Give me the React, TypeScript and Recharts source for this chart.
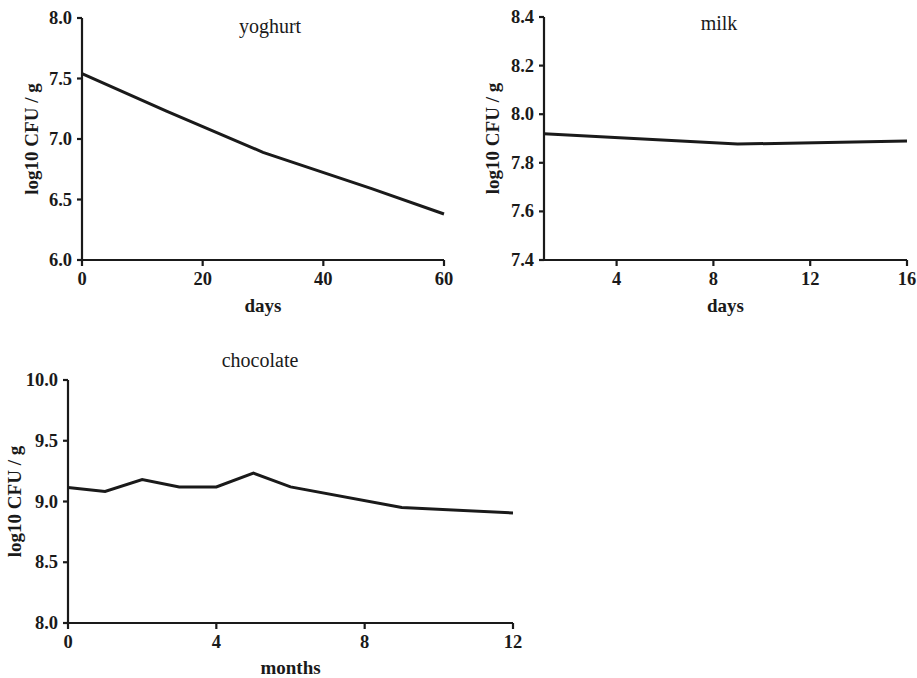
import React from "react";
import { LineChart, Line, XAxis, YAxis, Label } from "recharts";

const FONT = "Liberation Serif, Times New Roman, serif";
const INK = "#1a1a1a";

// yoghurt
const yoghurtDays = [0, 14, 30, 48, 60];
const yoghurtValues = [7.54, 7.23, 6.89, 6.59, 6.38];
const yoghurtXTicks = [0, 20, 40, 60];
const yoghurtYTicks = [6.0, 6.5, 7.0, 7.5, 8.0];

// milk
const milkDays = [1, 9, 16];
const milkValues = [7.92, 7.877, 7.89];
const milkXTicks = [4, 8, 12, 16];
const milkYTicks = [7.4, 7.6, 7.8, 8.0, 8.2, 8.4];

// chocolate
const chocolateMonths = [0, 1, 2, 3, 4, 5, 6, 9, 12];
const chocolateValues = [9.115, 9.082, 9.18, 9.12, 9.12, 9.234, 9.12, 8.95, 8.906];
const chocolateXTicks = [0, 4, 8, 12];
const chocolateYTicks = [8.0, 8.5, 9.0, 9.5, 10.0];

const titles = ["yoghurt", "milk", "chocolate"];
const yLabel = "log10 CFU / g";
const xLabels = ["days", "days", "months"];

const toRows = (xs: number[], ys: number[]) => xs.map((x, i) => ({ x, y: ys[i] }));

const XTick = (props: any) => {
  const { x, y, payload } = props;
  return (
    <text
      x={x}
      y={y}
      dy={14}
      textAnchor="middle"
      fontFamily={FONT}
      style={{ fontFamily: FONT }}
      fontWeight="bold"
      fontSize={18.5}
      fill={INK}
    >
      {String(payload.value)}
    </text>
  );
};

const YTick = (props: any) => {
  const { x, y, payload } = props;
  return (
    <text
      x={x}
      y={y}
      dy={6}
      textAnchor="end"
      fontFamily={FONT}
      style={{ fontFamily: FONT }}
      fontWeight="bold"
      fontSize={18.5}
      fill={INK}
    >
      {Number(payload.value).toFixed(1)}
    </text>
  );
};

type PanelProps = {
  left: number;
  top: number;
  width: number;
  height: number;
  margin: { top: number; right: number; bottom: number; left: number };
  yAxisWidth: number;
  xAxisHeight: number;
  rows: { x: number; y: number }[];
  xDomain: [number, number];
  xTicks: number[];
  yDomain: [number, number];
  yTicks: number[];
  xLabel: string;
  yLabelX: number;
  xLabelDy: number;
};

function Panel(p: PanelProps) {
  return (
    <div style={{ position: "absolute", left: p.left, top: p.top, width: p.width, height: p.height }}>
      <LineChart width={p.width} height={p.height} data={p.rows} margin={p.margin}>
        <XAxis
          dataKey="x"
          type="number"
          domain={p.xDomain}
          ticks={p.xTicks}
          interval={0}
          height={p.xAxisHeight}
          axisLine={{ stroke: INK, strokeWidth: 2.2 }}
          tickLine={{ stroke: INK, strokeWidth: 2.2 }}
          tickSize={6}
          tickMargin={5}
          tick={<XTick />}
        >
          <Label
            content={(props: any) => {
              const vb = props.viewBox || {};
              return (
                <text
                  x={vb.x + vb.width / 2}
                  y={vb.y + p.xLabelDy}
                  textAnchor="middle"
                  fontFamily={FONT}
                  style={{ fontFamily: FONT }}
                  fontWeight="bold"
                  fontSize={19}
                  fill={INK}
                >
                  {p.xLabel}
                </text>
              );
            }}
          />
        </XAxis>
        <YAxis
          type="number"
          domain={p.yDomain}
          ticks={p.yTicks}
          interval={0}
          width={p.yAxisWidth}
          axisLine={{ stroke: INK, strokeWidth: 2.2 }}
          tickLine={{ stroke: INK, strokeWidth: 2.2 }}
          tickSize={5}
          tickMargin={5}
          tick={<YTick />}
        >
          <Label
            content={(props: any) => {
              const vb = props.viewBox || {};
              const cx = p.yLabelX;
              const cy = vb.y + vb.height / 2;
              return (
                <text
                  x={cx}
                  y={cy}
                  textAnchor="middle"
                  transform={`rotate(-90, ${cx}, ${cy})`}
                  fontFamily={FONT}
                  style={{ fontFamily: FONT }}
                  fontWeight="bold"
                  fontSize={19}
                  fill={INK}
                >
                  {yLabel}
                </text>
              );
            }}
          />
        </YAxis>
        <Line
          type="linear"
          dataKey="y"
          stroke={INK}
          strokeWidth={3}
          dot={false}
          isAnimationActive={false}
        />
      </LineChart>
    </div>
  );
}

export default function App() {
  return (
    <div
      style={{
        position: "absolute",
        left: 0,
        top: 0,
        width: 917,
        height: 678,
        background: "#fff",
        overflow: "hidden",
        fontFamily: FONT,
      }}
    >
      <Panel
        left={0}
        top={0}
        width={460}
        height={320}
        margin={{ top: 18, right: 16, bottom: 0, left: 0 }}
        yAxisWidth={82}
        xAxisHeight={60}
        rows={toRows(yoghurtDays, yoghurtValues)}
        xDomain={[0, 60]}
        xTicks={yoghurtXTicks}
        yDomain={[6, 8]}
        yTicks={yoghurtYTicks}
        xLabel={xLabels[0]}
        yLabelX={38}
        xLabelDy={52}
      />
      <Panel
        left={460}
        top={0}
        width={457}
        height={320}
        margin={{ top: 17, right: 10, bottom: 0, left: 0 }}
        yAxisWidth={84}
        xAxisHeight={60}
        rows={toRows(milkDays, milkValues)}
        xDomain={[1, 16]}
        xTicks={milkXTicks}
        yDomain={[7.4, 8.4]}
        yTicks={milkYTicks}
        xLabel={xLabels[1]}
        yLabelX={39}
        xLabelDy={52}
      />
      <Panel
        left={0}
        top={320}
        width={545}
        height={358}
        margin={{ top: 60, right: 32, bottom: 0, left: 0 }}
        yAxisWidth={68}
        xAxisHeight={55}
        rows={toRows(chocolateMonths, chocolateValues)}
        xDomain={[0, 12]}
        xTicks={chocolateXTicks}
        yDomain={[8, 10]}
        yTicks={chocolateYTicks}
        xLabel={xLabels[2]}
        yLabelX={21}
        xLabelDy={51}
      />
      <svg
        width={917}
        height={678}
        style={{ position: "absolute", left: 0, top: 0, pointerEvents: "none" }}
      >
        <text x={270} y={33} textAnchor="middle" fontFamily={FONT} style={{ fontFamily: FONT }} fontSize={20} fill={INK}>
          {titles[0]}
        </text>
        <text x={719} y={30} textAnchor="middle" fontFamily={FONT} style={{ fontFamily: FONT }} fontSize={20} fill={INK}>
          {titles[1]}
        </text>
        <text x={260} y={367} textAnchor="middle" fontFamily={FONT} style={{ fontFamily: FONT }} fontSize={20} fill={INK}>
          {titles[2]}
        </text>
      </svg>
    </div>
  );
}
